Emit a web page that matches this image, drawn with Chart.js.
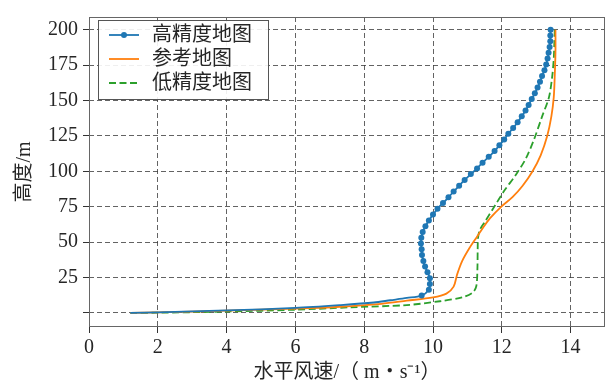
<!DOCTYPE html>
<html>
<head>
<meta charset="utf-8">
<script src="https://cdn.jsdelivr.net/npm/chart.js@4/dist/chart.umd.min.js"></script>
<style>
  html, body { margin: 0; padding: 0; background: #fff; }
  #wrap { width: 616px; height: 383px; }
</style>
</head>
<body>
<div id="wrap"><canvas id="chartWind" width="616" height="383"></canvas></div>
<script>
  /* 风速廓线数据 */
  const xTicks = [0, 2, 4, 6, 8, 10, 12, 14];
  const yTicks = [0, 25, 50, 75, 100, 125, 150, 175, 200];

  // 高精度地图 (the first 8 points have no marker)
  const hiMarkFrom = 8;
  const hiHeight = [0, 0.4, 1.7, 3.5, 5.5, 7.3, 8.9, 10.5,
    12.2, 16.3, 20.4, 24.5, 28.6, 32.7, 36.7, 40.8, 44.9, 49.0, 53.1, 57.1,
    61.2, 65.3, 69.4, 73.5, 77.6, 81.6, 85.7, 89.8, 93.9, 98.0, 102.0, 106.1,
    110.2, 114.3, 118.4, 122.4, 126.5, 130.6, 134.7, 138.8, 142.9, 146.9, 151.0,
    155.1, 159.2, 163.3, 167.3, 171.4, 175.5, 179.6, 183.7, 187.8, 191.8, 195.9, 200.0];
  const hiSpeed = [1.2, 2.0, 4.0, 6.0, 7.32, 8.28, 8.76, 9.24,
    9.67, 9.88, 9.91, 9.91, 9.84, 9.77, 9.72, 9.68, 9.67, 9.65, 9.66, 9.70,
    9.78, 9.88, 10.0, 10.13, 10.29, 10.45, 10.6, 10.76, 10.92, 11.1, 11.28, 11.44,
    11.62, 11.79, 11.93, 12.07, 12.19, 12.33, 12.46, 12.58, 12.69, 12.78, 12.87,
    12.96, 13.04, 13.11, 13.17, 13.24, 13.29, 13.33, 13.36, 13.39, 13.41, 13.41, 13.42];

  // 参考地图
  const refHeight = [0, 0.3, 1.6, 3.0, 4.3, 6.4, 8.6, 10.9, 13.6, 18.5, 27, 36.7,
    45.8, 53.8, 60, 66.9, 74.9, 81.7, 89.6, 99.9, 111.3, 124.9, 138.6, 152.2, 168, 184, 200];
  const refSpeed = [1.2, 2.0, 4.0, 6.0, 7.3, 8.5, 9.24, 10.0, 10.39, 10.6, 10.7, 10.85,
    11.06, 11.28, 11.45, 11.66, 11.98, 12.31, 12.6, 12.89, 13.13, 13.32, 13.44, 13.51, 13.54, 13.56, 13.56];

  // 低精度地图
  const lowHeight = [0, 0.1, 0.9, 2.2, 3.9, 5.5, 8.2, 11.1, 14.5, 19, 30, 47, 53,
    58.5, 64, 74.9, 86.2, 97.6, 109, 122.7, 138.6, 152.2, 165.9, 179.5, 193.2, 200];
  const lowSpeed = [1.2, 2.0, 4.0, 6.0, 7.6, 9.24, 10.2, 10.87, 11.16, 11.26, 11.29, 11.3, 11.31,
    11.36, 11.5, 11.78, 12.07, 12.41, 12.7, 12.94, 13.17, 13.37, 13.46, 13.51, 13.53, 13.54];

  const serif = "'Liberation Serif', 'Noto Sans CJK SC', serif";
  Chart.defaults.font.family = serif;
  Chart.defaults.font.size = 20;
  Chart.defaults.color = '#262626';

  const toPoints = (xs, ys) => xs.map((x, i) => ({ x: x, y: ys[i] }));

  /* 边框 + 图例 */
  const frameLegend = {
    id: 'frameLegend',
    afterDraw(chart) {
      const c = chart.ctx;
      const a = chart.chartArea;
      c.save();
      c.strokeStyle = '#666';
      c.lineWidth = 1;
      c.setLineDash([]);
      c.strokeRect(a.left + 0.5, a.top + 0.5, a.right - a.left - 1, a.bottom - a.top - 1);

      // legend box
      const bx = 98.5, by = 20.5, bw = 170, bh = 79;
      c.fillStyle = 'rgba(255,255,255,0.9)';
      c.fillRect(bx, by, bw, bh);
      c.strokeStyle = '#555';
      c.strokeRect(bx, by, bw, bh);
      const rows = [35, 59, 83];
      chart.data.datasets.forEach((ds, i) => {
        const y = rows[i];
        c.strokeStyle = ds.borderColor;
        c.lineWidth = ds.borderWidth;
        c.setLineDash(ds.borderDash || []);
        c.beginPath();
        c.moveTo(109, y);
        c.lineTo(139, y);
        c.stroke();
        c.setLineDash([]);
        if (ds.showMarker) {
          c.fillStyle = ds.borderColor;
          c.beginPath();
          c.arc(124, y, 3, 0, Math.PI * 2);
          c.fill();
        }
        c.fillStyle = '#262626';
        c.font = '20px ' + serif;
        c.textBaseline = 'middle';
        c.fillText(ds.label, 152, y + 1);
      });
      c.restore();
    },
  };

  const gridOpts = {
    color: 'rgba(60,60,60,0.8)',
    tickBorderDash: [],
    tickColor: '#333',
    tickLength: 6,
    lineWidth: 1,
  };

  const ctx = document.getElementById('chartWind').getContext('2d');
  const chartWind = new Chart(ctx, {
    type: 'scatter',
    plugins: [frameLegend],
    data: {
      datasets: [
        {
          label: '高精度地图',
          data: toPoints(hiSpeed, hiHeight),
          showLine: true,
          showMarker: true,
          borderColor: '#1f77b4',
          backgroundColor: '#1f77b4',
          borderWidth: 1.8,
          tension: 0.3,
          pointRadius: (c) => (c.dataIndex >= hiMarkFrom ? 3 : 0),
          pointBorderWidth: 0,
          order: 1,
        },
        {
          label: '参考地图',
          data: toPoints(refSpeed, refHeight),
          showLine: true,
          borderColor: '#ff7f0e',
          backgroundColor: '#ff7f0e',
          borderWidth: 1.8,
          tension: 0.3,
          pointRadius: 0,
          order: 2,
        },
        {
          label: '低精度地图',
          data: toPoints(lowSpeed, lowHeight),
          showLine: true,
          borderColor: '#2ca02c',
          backgroundColor: '#2ca02c',
          borderWidth: 1.8,
          borderDash: [7, 3.5],
          tension: 0.3,
          pointRadius: 0,
          order: 3,
        },
      ],
    },
    options: {
      responsive: false,
      animation: false,
      layout: { padding: { left: 0, right: 11, top: 8, bottom: 0 } },
      plugins: {
        legend: { display: false },
        tooltip: { enabled: false },
      },
      scales: {
        x: {
          type: 'linear',
          min: 0,
          max: 15,
          afterBuildTicks: (s) => { s.ticks = xTicks.map((v) => ({ value: v })); },
          afterFit: (s) => { s.height = 56; },
          grid: gridOpts,
          border: { display: false, dash: [5, 3] },
          ticks: { padding: 3, maxRotation: 0, font: { size: 20 } },
          title: {
            display: true,
            text: '水平风速/（ m・s⁻¹）',
            font: { size: 20 },
            padding: { top: 0, bottom: -2 },
          },
        },
        y: {
          type: 'linear',
          min: -10,
          max: 209,
          afterBuildTicks: (s) => { s.ticks = yTicks.map((v) => ({ value: v })); },
          afterFit: (s) => { s.width = 89; },
          grid: gridOpts,
          border: { display: false, dash: [5, 3] },
          ticks: {
            padding: 5,
            font: { size: 20 },
            callback: (v) => (v === 0 ? '' : v),
          },
          title: {
            display: true,
            text: '高度/m',
            font: { size: 20 },
            padding: { top: 13, bottom: 0 },
          },
        },
      },
    },
  });
</script>
</body>
</html>
